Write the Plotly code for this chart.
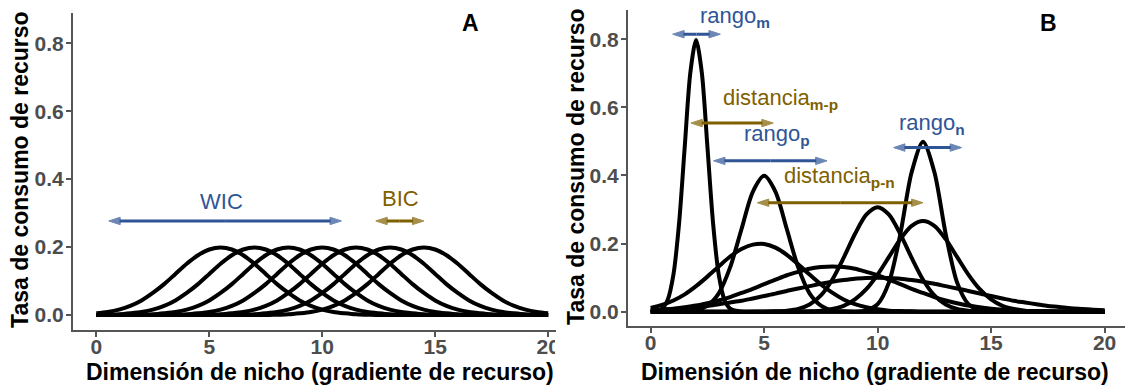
import plotly.graph_objects as go

# ---------------------------------------------------------------------------
# Datos
# ---------------------------------------------------------------------------
# Gradiente de recurso (dimensión de nicho), muestreado cada 0.5 unidades
nicho = [0, 0.5, 1, 1.5, 2, 2.5, 3, 3.5, 4, 4.5, 5, 5.5, 6, 6.5, 7, 7.5, 8, 8.5,
         9, 9.5, 10, 10.5, 11, 11.5, 12, 12.5, 13, 13.5, 14, 14.5, 15, 15.5, 16,
         16.5, 17, 17.5, 18, 18.5, 19, 19.5, 20]

# Panel A: siete individuos con la misma amplitud de nicho (óptimos 5.5 ... 14.5)
ind_a1 = [.005, .009, .016, .027, .043, .065, .091, .121, .151, .176, .193, .199, .193, .176,
          .151, .121, .091, .065, .043, .027, .016, .009, .005, .002, .001, 0, 0, 0, 0, 0,
          0, 0, 0, 0, 0, 0, 0, 0, 0, 0, 0]
ind_a2 = [0, .001, .002, .005, .009, .016, .027, .043, .065, .091, .121, .151, .176, .193,
          .199, .193, .176, .151, .121, .091, .065, .043, .027, .016, .009, .005, .002, .001,
          0, 0, 0, 0, 0, 0, 0, 0, 0, 0, 0, 0, 0]
ind_a3 = [0, 0, 0, 0, .001, .002, .005, .009, .016, .027, .043, .065, .091, .121, .151, .176,
          .193, .199, .193, .176, .151, .121, .091, .065, .043, .027, .016, .009, .005, .002,
          .001, 0, 0, 0, 0, 0, 0, 0, 0, 0, 0]
ind_a4 = [0, 0, 0, 0, 0, 0, 0, .001, .002, .005, .009, .016, .027, .043, .065, .091, .121,
          .151, .176, .193, .199, .193, .176, .151, .121, .091, .065, .043, .027, .016, .009,
          .005, .002, .001, 0, 0, 0, 0, 0, 0, 0]
ind_a5 = [0, 0, 0, 0, 0, 0, 0, 0, 0, 0, .001, .002, .005, .009, .016, .027, .043, .065, .091,
          .121, .151, .176, .193, .199, .193, .176, .151, .121, .091, .065, .043, .027, .016,
          .009, .005, .002, .001, 0, 0, 0, 0]
ind_a6 = [0, 0, 0, 0, 0, 0, 0, 0, 0, 0, 0, 0, 0, .001, .002, .005, .009, .016, .027, .043,
          .065, .091, .121, .151, .176, .193, .199, .193, .176, .151, .121, .091, .065, .043,
          .027, .016, .009, .005, .002, .001, 0]
ind_a7 = [0, 0, 0, 0, 0, 0, 0, 0, 0, 0, 0, 0, 0, 0, 0, 0, .001, .002, .005, .009, .016, .027,
          .043, .065, .091, .121, .151, .176, .193, .199, .193, .176, .151, .121, .091, .065,
          .043, .027, .016, .009, .005]

# Panel B: individuos con amplitudes y óptimos distintos
nicho_m = [0, 0.5, 0.75, 1, 1.25, 1.5, 1.75, 2, 2.25, 2.5, 2.75, 3, 3.25, 3.5, 4, 5, 10, 15, 20]
ind_m = [0, .009, .035, .108, .259, .484, .704, .798, .704, .484, .259, .108, .035, .009,
         0, 0, 0, 0, 0]
ind_p = [0, 0, 0, .001, .004, .018, .054, .130, .242, .352, .399, .352, .242, .130, .054,
         .018, .004, .001, 0, 0, 0, 0, 0, 0, 0, 0, 0, 0, 0, 0, 0, 0, 0, 0, 0, 0, 0, 0, 0, 0, 0]
ind_b3 = [.011, .020, .033, .051, .075, .103, .133, .162, .184, .197, .199, .188, .167, .139,
          .109, .080, .056, .036, .022, .013, .007, .003, .002, .001, 0, 0, 0, 0, 0, 0, 0, 0,
          0, 0, 0, 0, 0, 0, 0, 0, 0]
ind_b4 = [.004, .006, .009, .013, .018, .025, .033, .043, .055, .067, .081, .094, .107, .117,
          .126, .131, .133, .131, .126, .117, .107, .094, .081, .067, .055, .043, .033, .025,
          .018, .013, .009, .006, .004, .002, .001, .001, 0, 0, 0, 0, 0]
ind_b5 = [.004, .006, .008, .010, .014, .017, .022, .027, .032, .039, .046, .053, .061, .068,
          .075, .082, .088, .093, .097, .099, .100, .099, .097, .093, .088, .082, .075, .068,
          .061, .053, .046, .039, .032, .027, .022, .017, .014, .010, .008, .006, .004]
ind_b6 = [0, 0, 0, 0, 0, 0, 0, 0, 0, 0, 0, .001, .003, .008, .021, .048, .094, .158, .228,
          .285, .307, .285, .228, .158, .094, .048, .021, .008, .003, .001, 0, 0, 0, 0, 0, 0,
          0, 0, 0, 0, 0]
ind_n = [0, 0, 0, 0, 0, 0, 0, 0, 0, 0, 0, 0, 0, 0, 0, 0, 0, 0, 0, .004, .022, .086, .228,
         .410, .499, .410, .228, .086, .022, .004, 0, 0, 0, 0, 0, 0, 0, 0, 0, 0, 0]
ind_b8 = [0, 0, 0, 0, 0, 0, 0, 0, 0, 0, 0, 0, 0, 0, .001, .003, .008, .017, .036, .066, .109,
          .161, .213, .252, .266, .252, .213, .161, .109, .066, .036, .017, .008, .003, .001,
          0, 0, 0, 0, 0, 0]

curvas_a = [ind_a1, ind_a2, ind_a3, ind_a4, ind_a5, ind_a6, ind_a7]
curvas_b = [(nicho_m, ind_m), (nicho, ind_p), (nicho, ind_b3), (nicho, ind_b4),
            (nicho, ind_b5), (nicho, ind_b6), (nicho, ind_n), (nicho, ind_b8)]

# Intervalos señalados con flechas: (texto, desde, hasta, altura, posición x del texto, y del texto)
flechas_a = [
    ("WIC", 0.55, 10.85, 0.277, 5.55, 0.333, "wic"),
    ("BIC", 12.37, 14.5, 0.277, 13.45, 0.342, "bic"),
]
flechas_b = [
    ("rango<sub><b>m</b></sub>", 0.97, 3.07, 0.815, 3.71, 0.866, "rango"),
    ("distancia<sub><b>m-p</b></sub>", 1.77, 5.4, 0.554, 5.71, 0.626, "dist"),
    ("rango<sub><b>p</b></sub>", 2.77, 7.77, 0.443, 5.58, 0.519, "rango"),
    ("distancia<sub><b>p-n</b></sub>", 4.7, 12.0, 0.32, 8.3, 0.396, "dist"),
    ("rango<sub><b>n</b></sub>", 10.7, 13.7, 0.482, 12.38, 0.551, "rango"),
]

eje_x_ticks = [0, 5, 10, 15, 20]
eje_y_ticks = [0.0, 0.2, 0.4, 0.6, 0.8]

# ---------------------------------------------------------------------------
# Estilo
# ---------------------------------------------------------------------------
W, H = 1129, 387
FUENTE = "Liberation Sans, Arial, Helvetica, sans-serif"
AZUL = "#2F5597"
DORADO = "#7F6000"
COLOR_FLECHA = {"wic": AZUL, "rango": AZUL, "bic": DORADO, "dist": DORADO}


def px_x(p):
    return p / W


def px_y(p):
    return 1 - p / H


fig = go.Figure()

for y in curvas_a:
    fig.add_trace(go.Scatter(x=nicho, y=y, mode="lines", xaxis="x", yaxis="y",
                             line=dict(color="black", width=4, shape="spline", smoothing=0.8),
                             hoverinfo="skip"))

for x, y in curvas_b:
    fig.add_trace(go.Scatter(x=x, y=y, mode="lines", xaxis="x2", yaxis="y2",
                             line=dict(color="black", width=4, shape="spline", smoothing=0.8),
                             hoverinfo="skip"))

eje_comun = dict(showgrid=False, zeroline=False, showline=True, linecolor="#555555",
                 linewidth=1.5, ticks="outside", ticklen=5, tickwidth=1.5,
                 tickcolor="#555555",
                 tickfont=dict(family=FUENTE, size=21, color="#4D4D4D", weight="bold"))
eje_x = dict(ticklabelstandoff=-8, tickvals=eje_x_ticks, **eje_comun)
eje_y = dict(ticklabelstandoff=-2, tickvals=eje_y_ticks, tickformat=".1f", **eje_comun)

fig.update_layout(
    width=W, height=H,
    margin=dict(l=0, r=0, t=0, b=0),
    paper_bgcolor="white", plot_bgcolor="white",
    showlegend=False,
    xaxis=dict(domain=[px_x(73), px_x(558)], range=[-1.045, 20.35], anchor="y", **eje_x),
    yaxis=dict(domain=[px_y(330), px_y(13)], range=[-0.044, 0.889], anchor="x", **eje_y),
    xaxis2=dict(domain=[px_x(630), 1.0], range=[-1.01, 20.9], anchor="y2", **eje_x),
    yaxis2=dict(domain=[px_y(326), px_y(10)], range=[-0.042, 0.886], anchor="x2", **eje_y),
)


def dibujar_flechas(flechas, xref, yref):
    """Flecha doble: dos tramos desde el centro, cada uno rematado con punta."""
    for texto, x0, x1, y, tx, ty, tipo in flechas:
        color = COLOR_FLECHA[tipo]
        xm = (x0 + x1) / 2
        fig.add_trace(go.Scatter(
            x=[xm, x0, None, xm, x1], y=[y, y, None, y, y],
            xaxis=xref, yaxis=yref, mode="lines+markers", hoverinfo="skip",
            line=dict(color=color, width=3),
            marker=dict(symbol="arrow", angleref="previous", size=[0, 12, 0, 0, 12],
                        color=color, line=dict(color=color, width=1)),
            cliponaxis=False))
        fig.add_annotation(x=tx, y=ty, xref=xref, yref=yref, text=texto,
                           showarrow=False, xanchor="center", yanchor="middle",
                           font=dict(family=FUENTE, size=22, color=color))


dibujar_flechas(flechas_a, "x", "y")
dibujar_flechas(flechas_b, "x2", "y2")

titulo_x = "Dimensión de nicho (gradiente de recurso)"
titulo_y = "Tasa de consumo de recurso"
fuente_titulo = dict(family=FUENTE, size=23, color="black", weight="bold")

for cx in (321, 878):
    fig.add_annotation(x=px_x(cx), y=px_y(372), xref="paper", yref="paper",
                       text=titulo_x, showarrow=False, xanchor="center",
                       yanchor="middle", font=fuente_titulo)
for cx, cy in ((20, 169), (578, 166)):
    fig.add_annotation(x=px_x(cx), y=px_y(cy), xref="paper", yref="paper",
                       text=titulo_y, showarrow=False, textangle=-90,
                       xanchor="center", yanchor="middle", font=fuente_titulo)

for letra, cx in (("A", 472), ("B", 1052)):
    fig.add_annotation(x=px_x(cx), y=px_y(23), xref="paper", yref="paper",
                       text=letra, showarrow=False, xanchor="center",
                       yanchor="middle", font=fuente_titulo)

# Borde entre paneles: el panel B tapa la mitad derecha de la etiqueta "20" del panel A
fig.add_shape(type="rect", xref="paper", yref="paper",
              x0=px_x(557), x1=px_x(600), y0=px_y(358), y1=px_y(333),
              fillcolor="white", line=dict(width=0), layer="above")

fig.write_html("out.html")
